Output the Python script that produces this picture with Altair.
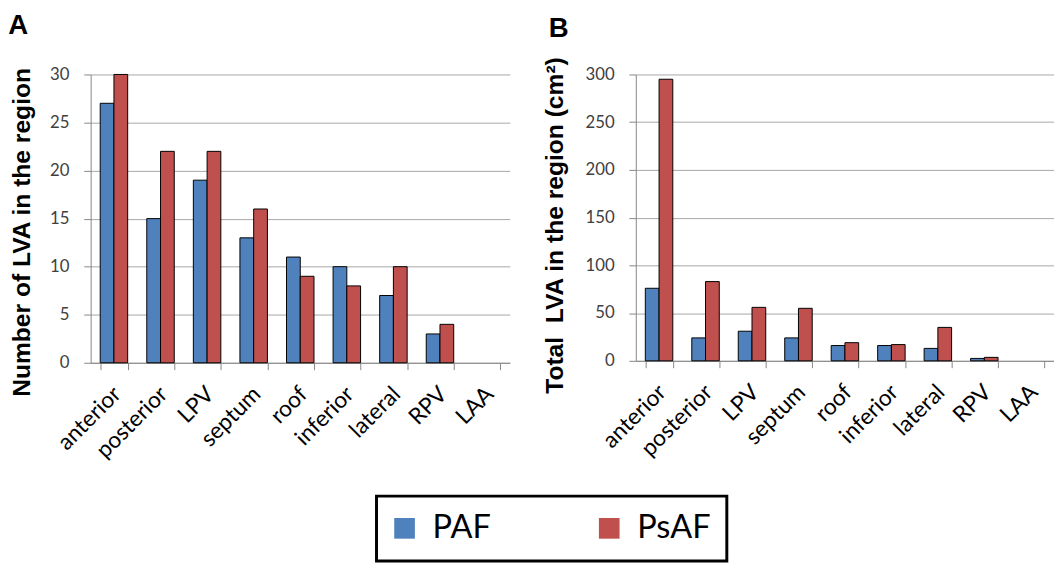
import altair as alt
import pandas as pd

categories = ["anterior", "posterior", "LPV", "septum", "roof", "inferior", "lateral", "RPV", "LAA"]
series = ["PAF", "PsAF"]
colors = ["#4F81BD", "#C0504D"]

count_paf = [27, 15, 19, 13, 11, 10, 7, 3, 0]
count_psaf = [30, 22, 22, 16, 9, 8, 10, 4, 0]

area_paf = [76, 24, 31, 24, 16, 16, 13, 2.5, 0]
area_psaf = [295, 83, 56, 55, 19, 17, 35, 3.6, 0]

count_ticks = [0, 5, 10, 15, 20, 25, 30]
area_ticks = [0, 50, 100, 150, 200, 250, 300]

TICK_FONT = "Lato"
TITLE_FONT = "Liberation Sans"
AXIS_GRAY = "#868686"
GRID_GRAY = "#A6A6A6"


def make_df(paf, psaf):
    return pd.DataFrame({
        "region": categories * 2,
        "group": ["PAF"] * len(categories) + ["PsAF"] * len(categories),
        "value": paf + psaf,
    })


def panel(df, letter, ytitle, ticks, width, height, title_y, title_offset, title_dx,
          title_pad, show_legend):
    if show_legend:
        legend = alt.Legend(
            title=None, orient="none", legendX=290.5, legendY=428.5,
            direction="horizontal", strokeColor="black",
            fillColor="white", padding=16, symbolType="square", symbolSize=441,
            symbolStrokeWidth=0, symbolOpacity=1, symbolOffset=-4,
            labelFontSize=33, labelFont=TICK_FONT,
            labelColor="black", labelOffset=12, columnPadding=107, cornerRadius=0,
        )
    else:
        legend = None
    return (
        alt.Chart(df)
        .transform_filter("datum.value > 0")
        .mark_bar(stroke="black", strokeWidth=1, opacity=1)
        .encode(
            x=alt.X(
                "region:N",
                scale=alt.Scale(domain=categories, paddingInner=0.41, paddingOuter=0.205),
                axis=alt.Axis(
                    title=None, labelAngle=-45, labelAlign="right", labelBaseline="middle",
                    labelFont=TICK_FONT, labelFontSize=23, labelColor="black",
                    labelPadding=21, labelOffset=3, labelOverlap=False, tickBand="extent", tickSize=7,
                    tickColor=AXIS_GRAY, domainColor=AXIS_GRAY, grid=False,
                ),
            ),
            xOffset=alt.XOffset("group:N", scale=alt.Scale(domain=series, paddingInner=0, paddingOuter=0)),
            y=alt.Y(
                "value:Q",
                scale=alt.Scale(domain=[ticks[0], ticks[-1]], nice=False),
                axis=alt.Axis(
                    values=ticks, title=ytitle, grid=True, gridColor=GRID_GRAY,
                    tickSize=7, tickColor=AXIS_GRAY, domainColor=AXIS_GRAY,
                    labelFont=TICK_FONT, labelFontSize=17, labelColor="#404040", labelPadding=15,
                    titleFont=TITLE_FONT, titleFontSize=25, titleFontWeight="bold",
                    titleColor="black", titlePadding=title_pad, titleY=title_y,
                ),
            ),
            color=alt.Color("group:N", scale=alt.Scale(domain=series, range=colors), legend=legend),
        )
        .properties(
            width=width, height=height,
            title=alt.TitleParams(
                letter, anchor="start", frame="bounds", font=TITLE_FONT, fontSize=28,
                fontWeight="bold", color="black", offset=title_offset, dx=title_dx,
            ),
        )
    )


chart_a = panel(make_df(count_paf, count_psaf), "A", "Number of LVA in the region",
                count_ticks, 426, 293, 160, 26, -2, 15, True)
chart_b = panel(make_df(area_paf, area_psaf), "B", "Total\u00a0\u00a0LVA in the region (cm²)",
                area_ticks, 425, 291, 153, 14, 6, 18, False)

chart = (
    alt.hconcat(chart_a, chart_b, spacing=33)
    .properties(padding={"left": 0, "top": 0, "right": 0, "bottom": 0}, background="white")
    .configure_view(stroke=None)
    .configure_legend(strokeWidth=3)
)

chart.save("out.html", embed_options={"renderer": "svg", "actions": False})
